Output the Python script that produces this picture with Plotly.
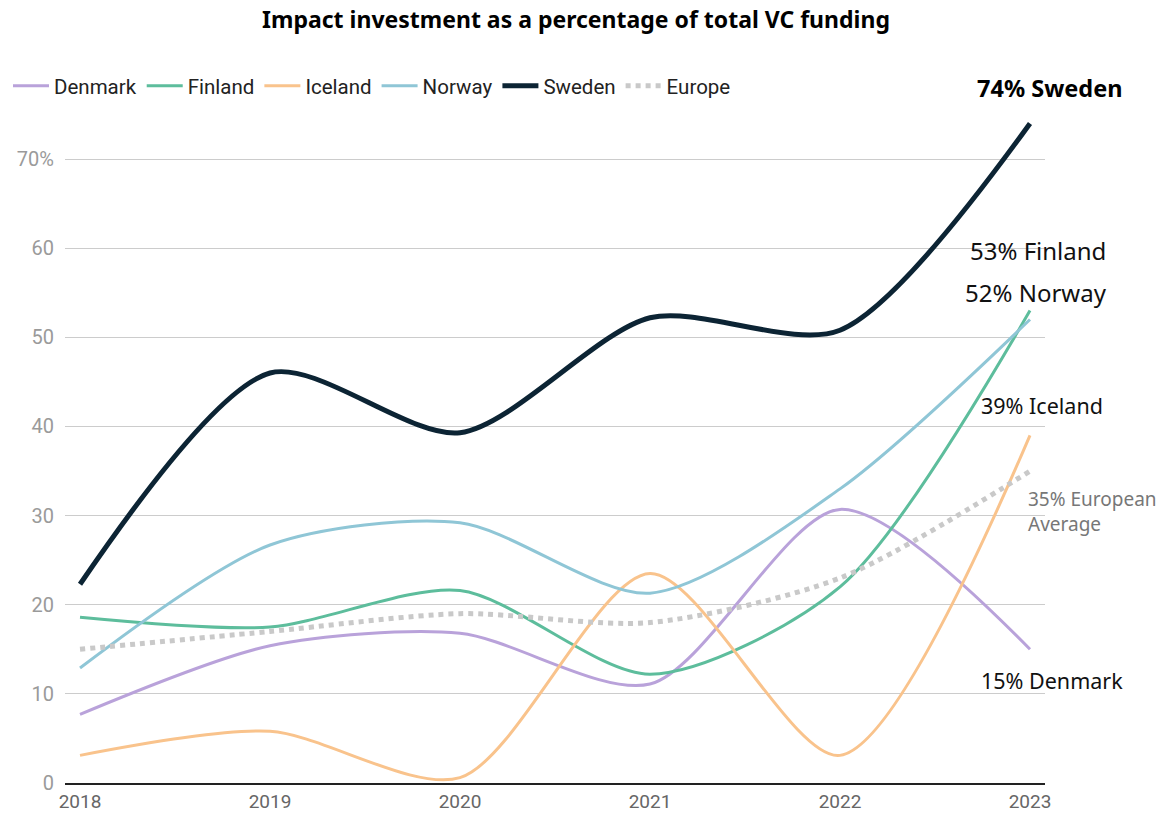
import plotly.graph_objects as go

years = [2018, 2019, 2020, 2021, 2022, 2023]

denmark = [7.7, 15.4, 16.8, 11.1, 30.7, 15]
finland = [18.6, 17.5, 21.6, 12.2, 22.0, 53]
iceland = [3.1, 5.8, 0.6, 23.5, 3.1, 39]
norway = [12.9, 26.7, 29.2, 21.3, 33.0, 52]
sweden = [22.3, 46.0, 39.3, 52.2, 50.8, 74]
europe = [15, 17, 19, 18, 23, 35]

y_ticks = [0, 10, 20, 30, 40, 50, 60, 70]
y_tick_text = ["0", "10", "20", "30", "40", "50", "60", "70%"]

COLORS = {
    "Denmark": "#b9a2da",
    "Finland": "#5dbd9c",
    "Iceland": "#f9c38c",
    "Norway": "#8fc6d6",
    "Sweden": "#0c2434",
    "Europe": "#c9c9c9",
}

# page has an 8px body margin, so the figure is a bit smaller than the window
W, H = 1160, 810

fig = go.Figure()

series = [("Denmark", denmark), ("Finland", finland), ("Iceland", iceland),
          ("Norway", norway), ("Sweden", sweden)]
for name, vals in series:
    fig.add_trace(go.Scatter(
        x=years, y=vals, name=name, mode="lines",
        line=dict(color=COLORS[name], width=5 if name == "Sweden" else 3,
                  shape="spline", smoothing=0.8),
        cliponaxis=False,
    ))

fig.add_trace(go.Scatter(
    x=years, y=europe, name="Europe", mode="lines",
    line=dict(color=COLORS["Europe"], width=5, dash="dot", shape="spline", smoothing=0.8),
    cliponaxis=False,
))


def py(px):
    # paper y from page pixel (plot spans 783px .. 119px on the page)
    return (783 - px) / 664


labels = [
    (f"<b>{sweden[-1]}% Sweden</b>", 88, 23.5, "#000000", 20),
    (f"{finland[-1]}% Finland", 250, 24, "#111111", 8),
    (f"{norway[-1]}% Norway", 292, 24, "#111111", 6),
    (f"{iceland[-1]}% Iceland", 405, 21.5, "#111111", 12),
    (f"{denmark[-1]}% Denmark", 680, 21.5, "#111111", 22),
]
for text, ypix, size, color, shift in labels:
    fig.add_annotation(x=2023, y=py(ypix), xref="x", yref="paper", text=text, showarrow=False,
                       xanchor="center", yanchor="middle", xshift=shift,
                       font=dict(family="Noto Sans", size=size, color=color))

fig.add_annotation(x=2023, y=py(511), xref="x", yref="paper",
                   text=f"{europe[-1]}% European<br>Average", showarrow=False,
                   xanchor="left", yanchor="middle", align="left", xshift=-4,
                   font=dict(family="Noto Sans", size=19, color="#777777"))

fig.update_layout(
    width=W, height=H,
    paper_bgcolor="white", plot_bgcolor="white",
    font=dict(family="Roboto, sans-serif", size=18, color="#222222"),
    title=dict(text="<b>Impact investment as a percentage of total VC funding</b>",
               x=568 / W, xanchor="center", y=1 - 12 / H, yanchor="middle",
               font=dict(family="Noto Sans", size=23, color="#000000")),
    legend=dict(orientation="h", x=0.0, xanchor="left", xref="container",
                y=1 - 78 / H, yref="container", yanchor="middle",
                font=dict(family="Roboto", size=20.5, color="#222222"),
                itemwidth=36, tracegroupgap=0, traceorder="normal"),
    margin=dict(l=57, r=123, t=111, b=35),
    showlegend=True,
    xaxis=dict(range=[2017.921, 2023.079], tickvals=years, showgrid=False,
               showline=True, linecolor="#222222", linewidth=1.5, zeroline=False,
               tickfont=dict(family="Roboto", size=19, color="#666666"), ticks="",
               automargin=False),
    yaxis=dict(range=[0, 74.5], tickvals=y_ticks, ticktext=y_tick_text,
               showgrid=True, gridcolor="#cccccc", gridwidth=1, zeroline=False,
               tickfont=dict(family="Roboto", size=20, color="#9a9a9a"), ticks="",
               ticklabelstandoff=10, automargin=False),
)

fig.write_html("out.html")
